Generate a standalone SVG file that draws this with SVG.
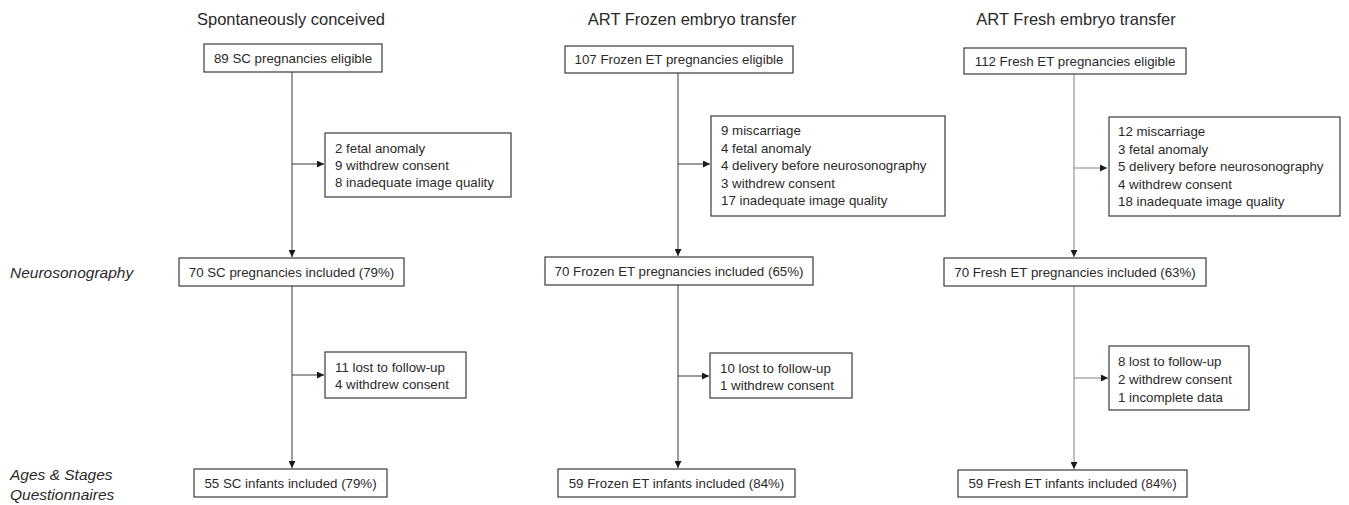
<svg xmlns="http://www.w3.org/2000/svg" width="1349" height="505" viewBox="0 0 1349 505">
<defs>
<style>
.title{font-family:"Liberation Sans",Arial,sans-serif;font-size:16.5px;fill:#2a2a2a;text-anchor:middle}
.lbl{font-family:"Liberation Sans",Arial,sans-serif;font-size:15.5px;font-style:italic;fill:#2a2a2a}
.box{fill:#fff;stroke:#3a3a3a;stroke-width:1.2}
.t{font-family:"Liberation Sans",Arial,sans-serif;font-size:13.3px;fill:#2a2a2a}
.c{text-anchor:middle}
.ln{fill:none;stroke:#4a4a4a;stroke-width:1.1}
.ln3{fill:none;stroke:#808080;stroke-width:1}
</style>
<marker id="ah" viewBox="0 0 10 10" refX="10" refY="5" markerWidth="7" markerHeight="7" markerUnits="userSpaceOnUse" orient="auto">
<path d="M0,0 L10,5 L0,10 z" fill="#1a1a1a"/>
</marker>
</defs>
<rect width="1349" height="505" fill="#fff"/>

<g id="titles">
<text class="title" x="291" y="25">Spontaneously conceived</text>
<text class="title" x="692" y="25">ART Frozen embryo transfer</text>
<text class="title" x="1076" y="25">ART Fresh embryo transfer</text>
</g>
<g id="stage-labels">
<text class="lbl" x="10" y="278">Neurosonography</text>
<text class="lbl" x="10" y="480">Ages &amp; Stages</text>
<text class="lbl" x="10" y="500">Questionnaires</text>
</g>

<g id="connectors">
<path class="ln" d="M292,72 V257" marker-end="url(#ah)"/>
<path class="ln" d="M292,164 H324" marker-end="url(#ah)"/>
<path class="ln" d="M292,286 V468" marker-end="url(#ah)"/>
<path class="ln" d="M292,375 H324" marker-end="url(#ah)"/>
<path class="ln" d="M678,73 V256" marker-end="url(#ah)"/>
<path class="ln" d="M678,164 H710" marker-end="url(#ah)"/>
<path class="ln" d="M678,285 V468" marker-end="url(#ah)"/>
<path class="ln" d="M678,376 H709" marker-end="url(#ah)"/>
<path class="ln3" d="M1074,74 V257" marker-end="url(#ah)"/>
<path class="ln3" d="M1074,168 H1107" marker-end="url(#ah)"/>
<path class="ln3" d="M1074,286 V469" marker-end="url(#ah)"/>
<path class="ln3" d="M1074,378 H1108" marker-end="url(#ah)"/>
</g>

<g id="sc-eligible"><rect class="box" x="204" y="44" width="178" height="28"/><text class="t c" x="293" y="62.5">89 SC pregnancies eligible</text></g>
<g id="sc-excl1"><rect class="box" x="325" y="133" width="186" height="64"/>
<text class="t" x="335" y="153">2 fetal anomaly</text><text class="t" x="335" y="170">9 withdrew consent</text><text class="t" x="335" y="187">8 inadequate image quality</text></g>
<g id="sc-neuro"><rect class="box" x="179" y="258" width="225" height="28"/><text class="t c" x="291.5" y="276.5">70 SC pregnancies included (79%)</text></g>
<g id="sc-excl2"><rect class="box" x="325" y="352" width="141" height="46"/>
<text class="t" x="335" y="372">11 lost to follow-up</text><text class="t" x="335" y="389">4 withdrew consent</text></g>
<g id="sc-asq"><rect class="box" x="194" y="469" width="193" height="28"/><text class="t c" x="290.5" y="487.5">55 SC infants included (79%)</text></g>

<g id="fz-eligible"><rect class="box" x="565" y="46" width="228" height="27"/><text class="t c" x="679" y="64">107 Frozen ET pregnancies eligible</text></g>
<g id="fz-excl1"><rect class="box" x="711" y="116" width="234" height="100"/>
<text class="t" x="721" y="135">9 miscarriage</text><text class="t" x="721" y="152.5">4 fetal anomaly</text><text class="t" x="721" y="170">4 delivery before neurosonography</text><text class="t" x="721" y="187.5">3 withdrew consent</text><text class="t" x="721" y="205">17 inadequate image quality</text></g>
<g id="fz-neuro"><rect class="box" x="545" y="257" width="268" height="28"/><text class="t c" x="679" y="275.5">70 Frozen ET pregnancies included (65%)</text></g>
<g id="fz-excl2"><rect class="box" x="710" y="353" width="142" height="45"/>
<text class="t" x="720" y="372.5">10 lost to follow-up</text><text class="t" x="720" y="390">1 withdrew consent</text></g>
<g id="fz-asq"><rect class="box" x="558" y="469" width="237" height="28"/><text class="t c" x="676.5" y="487.5">59 Frozen ET infants included (84%)</text></g>

<g id="fr-eligible"><rect class="box" x="964" y="48" width="222" height="26"/><text class="t c" x="1075" y="65.5">112 Fresh ET pregnancies eligible</text></g>
<g id="fr-excl1"><rect class="box" x="1109" y="117" width="231" height="99"/>
<text class="t" x="1118" y="136">12 miscarriage</text><text class="t" x="1118" y="153.5">3 fetal anomaly</text><text class="t" x="1118" y="171">5 delivery before neurosonography</text><text class="t" x="1118" y="188.5">4 withdrew consent</text><text class="t" x="1118" y="206">18 inadequate image quality</text></g>
<g id="fr-neuro"><rect class="box" x="944" y="258" width="262" height="28"/><text class="t c" x="1075" y="276.5">70 Fresh ET pregnancies included (63%)</text></g>
<g id="fr-excl2"><rect class="box" x="1109" y="346" width="140" height="64"/>
<text class="t" x="1118" y="365.5">8 lost to follow-up</text><text class="t" x="1118" y="383.5">2 withdrew consent</text><text class="t" x="1118" y="401.5">1 incomplete data</text></g>
<g id="fr-asq"><rect class="box" x="958" y="470" width="229" height="27"/><text class="t c" x="1072.5" y="488">59 Fresh ET infants included (84%)</text></g>
</svg>
